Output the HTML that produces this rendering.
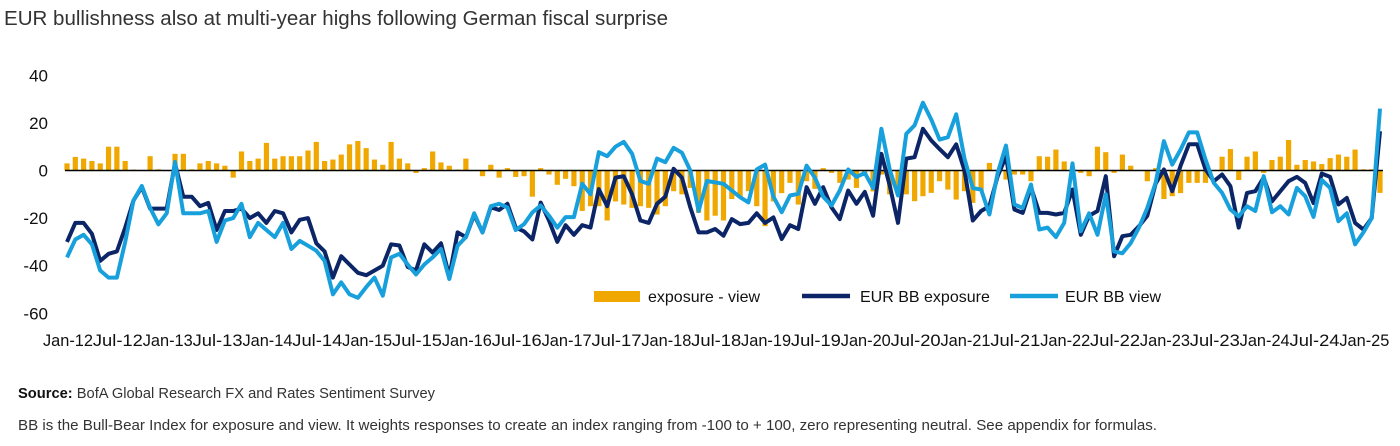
<!DOCTYPE html>
<html><head><meta charset="utf-8"><style>
html,body{margin:0;padding:0;background:#fff;}
svg{display:block;font-family:"Liberation Sans",sans-serif;}
</style></head><body>
<svg id="chart" width="1400" height="446" viewBox="0 0 1400 446">
<text x="4" y="25" font-size="20" fill="#333" textLength="664" lengthAdjust="spacingAndGlyphs">EUR bullishness also at multi-year highs following German fiscal surprise</text>
<g id="yaxis"></g>
<g id="bars"></g>
<line id="zero" stroke="#000" stroke-width="1.5"></line>
<g id="lines"></g>
<g id="xaxis"></g>
<g>
 <g><rect x="594" y="291" width="46" height="11" fill="#f0a800"/><text x="648" y="302" font-size="16" fill="#111">exposure - view</text></g>
 <g><line x1="802" y1="296" x2="850" y2="296" stroke="#0b2566" stroke-width="4.5"/><text x="860" y="302" font-size="16" fill="#111">EUR BB exposure</text></g>
 <g><line x1="1010" y1="296" x2="1058" y2="296" stroke="#18a0dc" stroke-width="4.5"/><text x="1065" y="302" font-size="16" fill="#111">EUR BB view</text></g>
</g>
<text x="18" y="398" font-size="15" fill="#333" textLength="417" lengthAdjust="spacingAndGlyphs"><tspan font-weight="bold" fill="#111">Source:</tspan> BofA Global Research FX and Rates Sentiment Survey</text>
<text x="18" y="430" font-size="15" fill="#333" textLength="1139" lengthAdjust="spacingAndGlyphs">BB is the Bull-Bear Index for exposure and view. It weights responses to create an index ranging from -100 to + 100, zero representing neutral. See appendix for formulas.</text>
</svg>
<script>
const yTicks=[40,20,0,-20,-40,-60];
const xTickLabels=["Jan-12","Jul-12","Jan-13","Jul-13","Jan-14","Jul-14","Jan-15","Jul-15","Jan-16","Jul-16","Jan-17","Jul-17","Jan-18","Jul-18","Jan-19","Jul-19","Jan-20","Jul-20","Jan-21","Jul-21","Jan-22","Jul-22","Jan-23","Jul-23","Jan-24","Jul-24","Jan-25"];
const exposure=[-30,-22,-22,-26.6,-38,-35,-34,-24,-12.6,-7,-16,-16,-16,3,-11,-11,-15,-13.6,-25,-17,-17,-16,-20,-18,-22,-17,-18,-26,
-20.7,-20,-30.6,-34,-45,-36,-39.5,-43,-44,-42,-40,-31,-31.5,-40.5,-42,-31,-34.5,-30.6,-44.5,-26,-28,-18.6,-26,-15.4,-16.6,-14,-24,-25.6,
-29,-13.5,-21,-30,-23,-27,-23,-24,-7.8,-15,-3,-2.4,-10,-21,-22,-14,-11,0.7,-3,-15.5,-26,-26,-24.6,-27.4,-20.4,-22.5,-22,-18,
-22,-19.7,-28.8,-23,-24.6,-7,-14,-7,-15.5,-20.4,-8.4,-14,-9,-19,7,-6.3,-22,5,5.6,17.5,12.6,9,5.6,11,0,-21,-17,
-15,-2.4,6,-16.4,-17.8,-7,-17.8,-17.8,-18.5,-17.8,-8,-27,-19,-17,-2.4,-36,-27.6,-27,-23.4,-19,-5.6,0.4,-8.7,2,11,11,0.4,-4.5,
-1.7,-6.6,-24,-9.4,-8.7,-3,-13,-8.7,-4.5,-2.7,-5.2,-13.7,-1.3,-2.7,-14.3,-11.5,-22,-24.8,-20,16.5];
const view=[-36.5,-29,-27,-31,-42,-45,-45,-30,-12.6,-6.5,-15.7,-22.6,-18,3.6,-18,-18,-18,-17,-30,-21,-20,-14,-28,-22,-25,-28,-22,-33,
-29.6,-31.6,-33.7,-38,-52,-47,-52,-53.5,-49,-45,-52.6,-36.5,-35,-39.5,-43.7,-39.5,-36.5,-33,-45.6,-31.6,-28,-18,-26,-15,-14,-15.5,-25,-22.5,
-17.6,-14.7,-19,-24,-19.6,-19.6,-5.6,-10,7.7,6,10,12,7,-4.4,-5.6,5,3.5,9.5,7.5,0,-17,-4.4,-5,-5.6,-8.4,-11.2,-13.4,0.4,
2.5,-11,-17.5,-10.5,-9.8,2,-3,-11,-14.7,-8.4,0.4,-2.7,-1,-7.4,17.5,0.4,-10.5,15.4,19,28.5,21.4,13,14,23.6,5,-7.4,-8,
-18.5,-1,10.5,-14.3,-15.7,-5.9,-24.8,-24,-28,-22,3,-25.5,-18,-27,-10,-34,-34.8,-30.5,-24,-15.7,-5.2,12.3,2.5,8.8,16,16,4.6,-5.2,
-9.4,-16.4,-19.3,-15,-17,-2.4,-17.5,-15,-18.5,-7.3,-10.8,-19.5,-4,-7.3,-21.3,-18,-31,-26,-20,26];
const diff=[3,5.7,5,4,3,10,10,4,0.4,0,6,0.5,0,7,7,0.5,3,4,3,2,-3,8,4,5,11.6,5,6,6,
6,8.4,12,4,4.6,6.7,11,12.4,9.4,4.6,2.4,12,5,3,-1,1,8,3.4,2,0.4,5,0,-2.4,2.4,-3,1,-2.7,-2.4,
-11,1,-1.7,-6,-3.5,-6.6,-17,-15,-15,-21,-13,-14.3,-15.7,-15,-15.7,-18.5,-15,-8.7,-10,-7.3,-17.8,-21,-19,-21,-12,-11,-8.7,-15,
-23.4,-13,-9.5,-5.2,-14.3,-4.5,-7.7,1,-1,-5.2,-3.8,-7.3,-1,-8.8,-1.7,-10,-9.4,-10,-12.9,-10.8,-9.4,-4.5,-8,-12.2,-8.7,-13.6,-8.7,
3.2,0,-3.8,-1.7,-1.7,-4.5,6,5.8,8.8,3.8,1,-1,-2.4,10,7.7,-1,6.7,2,0,-4.5,1,-12,-10.8,-9.5,-5.2,-5.2,-5.2,0,
5.8,9,-4,5.8,8,-1,4.4,5.8,12.8,2.4,4.4,3.8,2.7,5.2,6.7,5.8,8.8,0.5,0.5,-9.4];

const NS="http://www.w3.org/2000/svg";
const x0=67, x1=1380, N=exposure.length;
function xs(i){return x0+(x1-x0)*i/(N-1);}
function ys(v){return 170.5-v*2.38;}
function mk(tag,attrs,parent){const e=document.createElementNS(NS,tag);for(const k in attrs)e.setAttribute(k,attrs[k]);parent.appendChild(e);return e;}

const yg=document.getElementById('yaxis');
yTicks.forEach(v=>{
  const t=mk('text',{x:48,y:ys(v)+6,'font-size':17,'text-anchor':'end',fill:'#111'},yg);
  
  
  t.textContent=v;
});
const xg=document.getElementById('xaxis');
xTickLabels.forEach((s,k)=>{
  const t=mk('text',{x:xs(k*6)+1,y:346,'font-size':16.5,'text-anchor':'middle',fill:'#111',textLength:50,lengthAdjust:'spacingAndGlyphs'},xg);
  
  
  t.textContent=s;
});
const bg=document.getElementById('bars');
diff.forEach((v,i)=>{
  const y0=ys(0), y=ys(v);
  const r=mk('rect',{x:xs(i)-2.6,y:Math.min(y0,y),width:5.2,height:Math.abs(y-y0),fill:'#f0a800'},bg);
  
  
});
const z=document.getElementById('zero');
z.setAttribute('x1',65);z.setAttribute('x2',1383);z.setAttribute('y1',ys(0));z.setAttribute('y2',ys(0));
const lg=document.getElementById('lines');
function line(arr,color,name){
  const p=mk('polyline',{points:arr.map((v,i)=>xs(i).toFixed(1)+','+ys(v).toFixed(1)).join(' '),fill:'none',stroke:color,'stroke-width':4,'stroke-linejoin':'round'},lg);
  
  
}
line(exposure,'#0b2566','eur-bb-exposure-line');
line(view,'#18a0dc','eur-bb-view-line');
</script>
</body></html>
